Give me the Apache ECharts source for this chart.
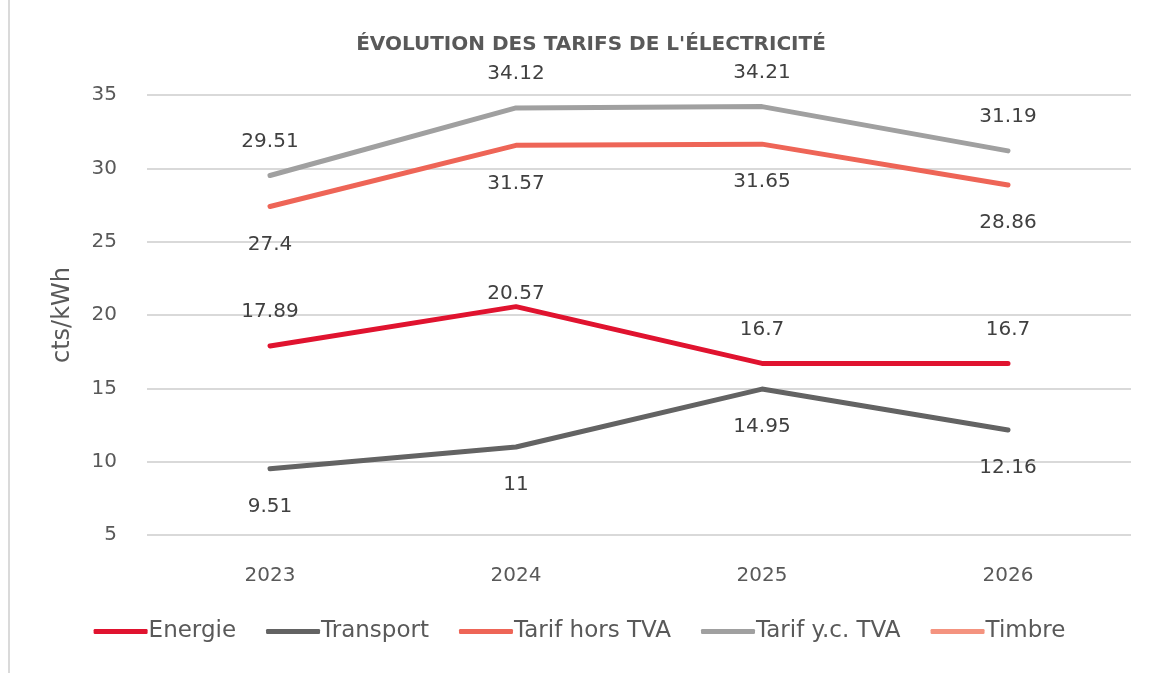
<!DOCTYPE html>
<html>
<head>
<meta charset="utf-8">
<script src="https://cdn.jsdelivr.net/npm/echarts@6/dist/echarts.min.js"></script>
<style>
  html, body { margin: 0; padding: 0; background: #fff; }
  #main { width: 1159px; height: 673px; }
</style>
</head>
<body>
<div id="main"></div>
<script>
var years = ['2023', '2024', '2025', '2026']
var energie = [17.89, 20.57, 16.7, 16.7]
var transport = [9.51, 11, 14.95, 12.16]
var tarifHorsTva = [27.4, 31.57, 31.65, 28.86]
var tarifTtc = [29.51, 34.12, 34.21, 31.19]
var timbre = []

var font = '"DejaVu Sans", sans-serif'
var textColor = '#595959'
var labelColor = '#404040'

var myChart = echarts.init(document.getElementById('main'))

function lineSeries(name, values, color, pos) {
  return {
    name: name,
    type: 'line',
    data: values,
    symbol: 'circle',
    symbolSize: 0,
    showSymbol: true,
    lineStyle: { width: 5, color: color, cap: 'round', join: 'round' },
    itemStyle: { color: color },
    label: {
      show: true,
      position: pos,
      distance: pos == 'top' ? 24 : 28,
      color: labelColor,
      fontSize: 20,
      fontFamily: font
    }
  }
}

var energieSeries = lineSeries('Energie', energie.map(function(v, i) {
  // excel put this one closer to the line
  return i == 1 ? { value: v, label: { distance: 3 } } : v
}), '#E0132F', 'top')

var option = {
  animation: false,
  backgroundColor: '#fff',
  title: {
    text: "ÉVOLUTION DES TARIFS DE L'ÉLECTRICITÉ",
    left: 586,
    textAlign: 'center',
    top: 30,
    textStyle: { color: textColor, fontSize: 20, fontWeight: 'bold', fontFamily: font }
  },
  graphic: [{
    type: 'rect',
    shape: { x: 8, y: 0, width: 2, height: 673 },
    style: { fill: '#dadada' }
  }],
  grid: { left: 147, right: 28, top: 95, bottom: 138 },
  legend: {
    bottom: 25,
    left: 'center',
    itemWidth: 54,
    itemHeight: 5,
    itemGap: 30,
    icon: 'roundRect',
    textStyle: { color: textColor, fontSize: 23, fontFamily: font, padding: [0, 0, 0, -4] },
    data: ['Energie', 'Transport', 'Tarif hors TVA', 'Tarif y.c. TVA', 'Timbre']
  },
  xAxis: {
    type: 'category',
    data: years,
    boundaryGap: true,
    axisLine: { show: false },
    axisTick: { show: false },
    axisLabel: { color: textColor, fontSize: 20, fontFamily: font, margin: 31 }
  },
  yAxis: {
    type: 'value',
    min: 5,
    max: 35,
    interval: 5,
    name: 'cts/kWh',
    nameLocation: 'middle',
    nameGap: 72,
    nameTextStyle: { color: textColor, fontSize: 24, fontFamily: font },
    axisLabel: { color: textColor, fontSize: 20, fontFamily: font, margin: 30 },
    splitLine: { lineStyle: { color: '#d9d9d9', width: 2 } }
  },
  series: [
    energieSeries,
    lineSeries('Transport', transport, '#636363', 'bottom'),
    lineSeries('Tarif hors TVA', tarifHorsTva, '#EE6557', 'bottom'),
    lineSeries('Tarif y.c. TVA', tarifTtc, '#A0A0A0', 'top'),
    lineSeries('Timbre', timbre, '#F4937F', 'top')
  ]
}

myChart.setOption(option)
</script>
</body>
</html>
